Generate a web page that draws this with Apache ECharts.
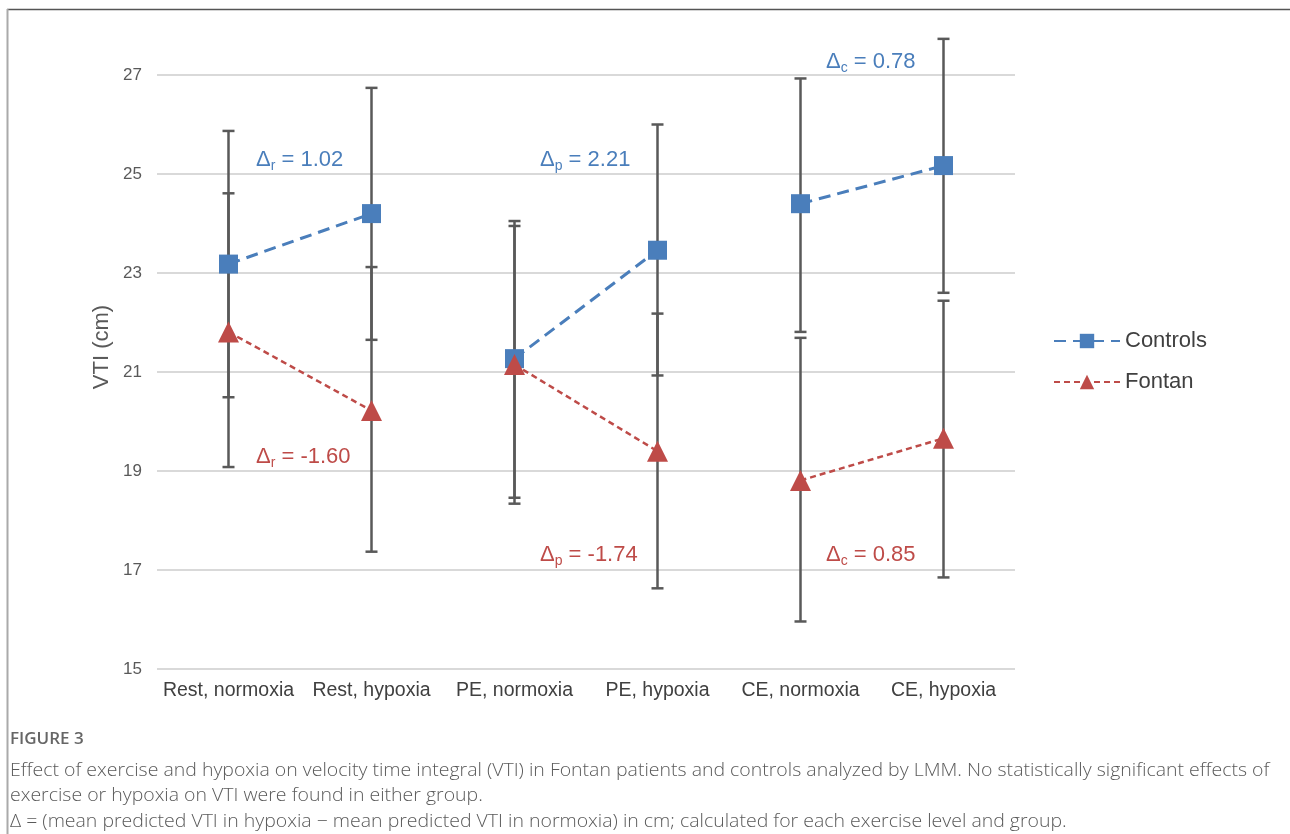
<!DOCTYPE html>
<html>
<head>
<meta charset="utf-8">
<script src="https://cdn.jsdelivr.net/npm/echarts@6/dist/echarts.min.js"></script>
<style>
html,body{margin:0;padding:0;background:#fff;}
#chart{width:1290px;height:834px;}
</style>
</head>
<body>
<div id="chart"></div>
<script>
var categories = ['Rest, normoxia', 'Rest, hypoxia', 'PE, normoxia', 'PE, hypoxia', 'CE, normoxia', 'CE, hypoxia'];
var controls = [23.18, 24.20, 21.27, 23.46, 24.40, 25.17];
var controlsLow = [20.49, 21.65, 18.46, 20.93, 21.81, 22.60];
var controlsHigh = [25.87, 26.74, 24.05, 26.00, 26.93, 27.73];
var fontan = [21.81, 20.22, 21.15, 19.40, 18.81, 19.66];
var fontanLow = [19.08, 17.37, 18.34, 16.63, 15.96, 16.85];
var fontanHigh = [24.61, 23.12, 23.95, 22.18, 21.69, 22.44];
var yTicks = {min: 15, max: 27, interval: 2};
var yAxisTitle = 'VTI (cm)';
var annotations = [
  {sub: 'r', text: ' = 1.02', color: '#4a7ebb', x: 256, y: 162},
  {sub: 'r', text: ' = -1.60', color: '#be4b48', x: 256, y: 459},
  {sub: 'p', text: ' = 2.21', color: '#4a7ebb', x: 540, y: 162},
  {sub: 'p', text: ' = -1.74', color: '#be4b48', x: 540, y: 557},
  {sub: 'c', text: ' = 0.78', color: '#4a7ebb', x: 826, y: 64},
  {sub: 'c', text: ' = 0.85', color: '#be4b48', x: 826, y: 557}
];
var captionTitle = 'FIGURE 3';
var captionLines = [
  'Effect of exercise and hypoxia on velocity time integral (VTI) in Fontan patients and controls analyzed by LMM. No statistically significant effects of',
  'exercise or hypoxia on VTI were found in either group.',
  '\u0394 = (mean predicted VTI in hypoxia \u2212 mean predicted VTI in normoxia) in cm; calculated for each exercise level and group.'
];

var blue = '#4a7ebb', red = '#be4b48', barColor = '#595959';
var FONT = '"Liberation Sans", Arial, sans-serif';

function errData(low, high) {
  return low.map(function (l, i) { return [i, l, high[i]]; });
}
function errRender(params, api) {
  var i = api.value(0);
  var lo = api.coord([i, api.value(1)]);
  var hi = api.coord([i, api.value(2)]);
  var w = 6;
  var st = {stroke: barColor, lineWidth: 2.5};
  return {
    type: 'group',
    children: [
      {type: 'line', shape: {x1: lo[0], y1: lo[1], x2: hi[0], y2: hi[1]}, style: st},
      {type: 'line', shape: {x1: lo[0] - w, y1: lo[1], x2: lo[0] + w, y2: lo[1]}, style: st},
      {type: 'line', shape: {x1: hi[0] - w, y1: hi[1], x2: hi[0] + w, y2: hi[1]}, style: st}
    ]
  };
}
// Split each group into normoxia->hypoxia pairs (one segment per exercise level)
function pairSeries(name, values, color, width, dash, symbol, size, z) {
  var out = [];
  for (var p = 0; p < values.length; p += 2) {
    var d = values.map(function (v, i) { return (i === p || i === p + 1) ? v : '-'; });
    out.push({
      type: 'line', name: name, data: d, z: z,
      symbol: symbol, symbolSize: size, connectNulls: false,
      itemStyle: {color: color},
      lineStyle: {color: color, width: width, type: dash}
    });
  }
  return out;
}

var graphics = [
  {type: 'line', shape: {x1: 7, y1: 9.5, x2: 1290, y2: 9.5}, style: {stroke: '#555', lineWidth: 1.5}},
  {type: 'line', shape: {x1: 7.5, y1: 9, x2: 7.5, y2: 834}, style: {stroke: '#aaa', lineWidth: 2}},
  {type: 'text', x: 102, y: 347, rotation: Math.PI / 2,
   style: {text: yAxisTitle, font: '22px ' + FONT, fill: '#595959', align: 'center', verticalAlign: 'middle'}}
];
annotations.forEach(function (a) {
  graphics.push({
    type: 'text', left: a.x, top: a.y - 13,
    style: {
      text: '{d|\u0394}{s|' + a.sub + '}{d|' + a.text + '}',
      rich: {
        d: {fontSize: 22, fontFamily: FONT, fill: a.color, color: a.color, lineHeight: 26, verticalAlign: 'bottom'},
        s: {fontSize: 14, fontFamily: FONT, fill: a.color, color: a.color, lineHeight: 26, verticalAlign: 'bottom', padding: [0, 0, -2, 0]}
      }
    }
  });
});
graphics.push({type: 'text', left: 10, top: 731, style: {text: captionTitle, font: '600 17px "Open Sans", sans-serif', fill: '#666'}});
captionLines.forEach(function (t, k) {
  graphics.push({type: 'text', left: 10, top: 761 + k * 25.5, style: {text: t, font: '300 19px "Open Sans", sans-serif', fill: '#5a5a5a'}, scaleX: 1.025});
});

var series = [
  {type: 'custom', name: 'errC', renderItem: errRender, data: errData(controlsLow, controlsHigh), clip: false, z: 1, silent: true},
  {type: 'custom', name: 'errF', renderItem: errRender, data: errData(fontanLow, fontanHigh), clip: false, z: 1, silent: true}
].concat(
  pairSeries('Controls', controls, blue, 3, [12, 7], 'rect', 19, 3),
  pairSeries('Fontan', fontan, red, 2.5, [6, 4], 'triangle', 21, 4)
);

var chart = echarts.init(document.getElementById('chart'));
chart.setOption({
  backgroundColor: '#fff',
  animation: false,
  grid: {left: 157, right: 275, top: 75, bottom: 165},
  legend: {
    orient: 'vertical', left: 1053, top: 330, padding: 0, itemWidth: 66, itemHeight: 18, itemGap: 19,
    textStyle: {fontSize: 22, fontFamily: FONT, color: '#404040'},
    data: ['Controls', 'Fontan']
  },
  xAxis: {
    type: 'category', data: categories, boundaryGap: true,
    axisLine: {show: false}, axisTick: {show: false},
    axisLabel: {fontSize: 19.5, fontFamily: FONT, color: '#404040', margin: 12, interval: 0}
  },
  yAxis: {
    type: 'value', min: yTicks.min, max: yTicks.max, interval: yTicks.interval,
    axisLine: {show: false}, axisTick: {show: false},
    axisLabel: {fontSize: 17, fontFamily: FONT, color: '#595959', margin: 15},
    splitLine: {lineStyle: {color: '#d9d9d9', width: 2}}
  },
  series: series,
  graphic: graphics
});
</script>
</body>
</html>
